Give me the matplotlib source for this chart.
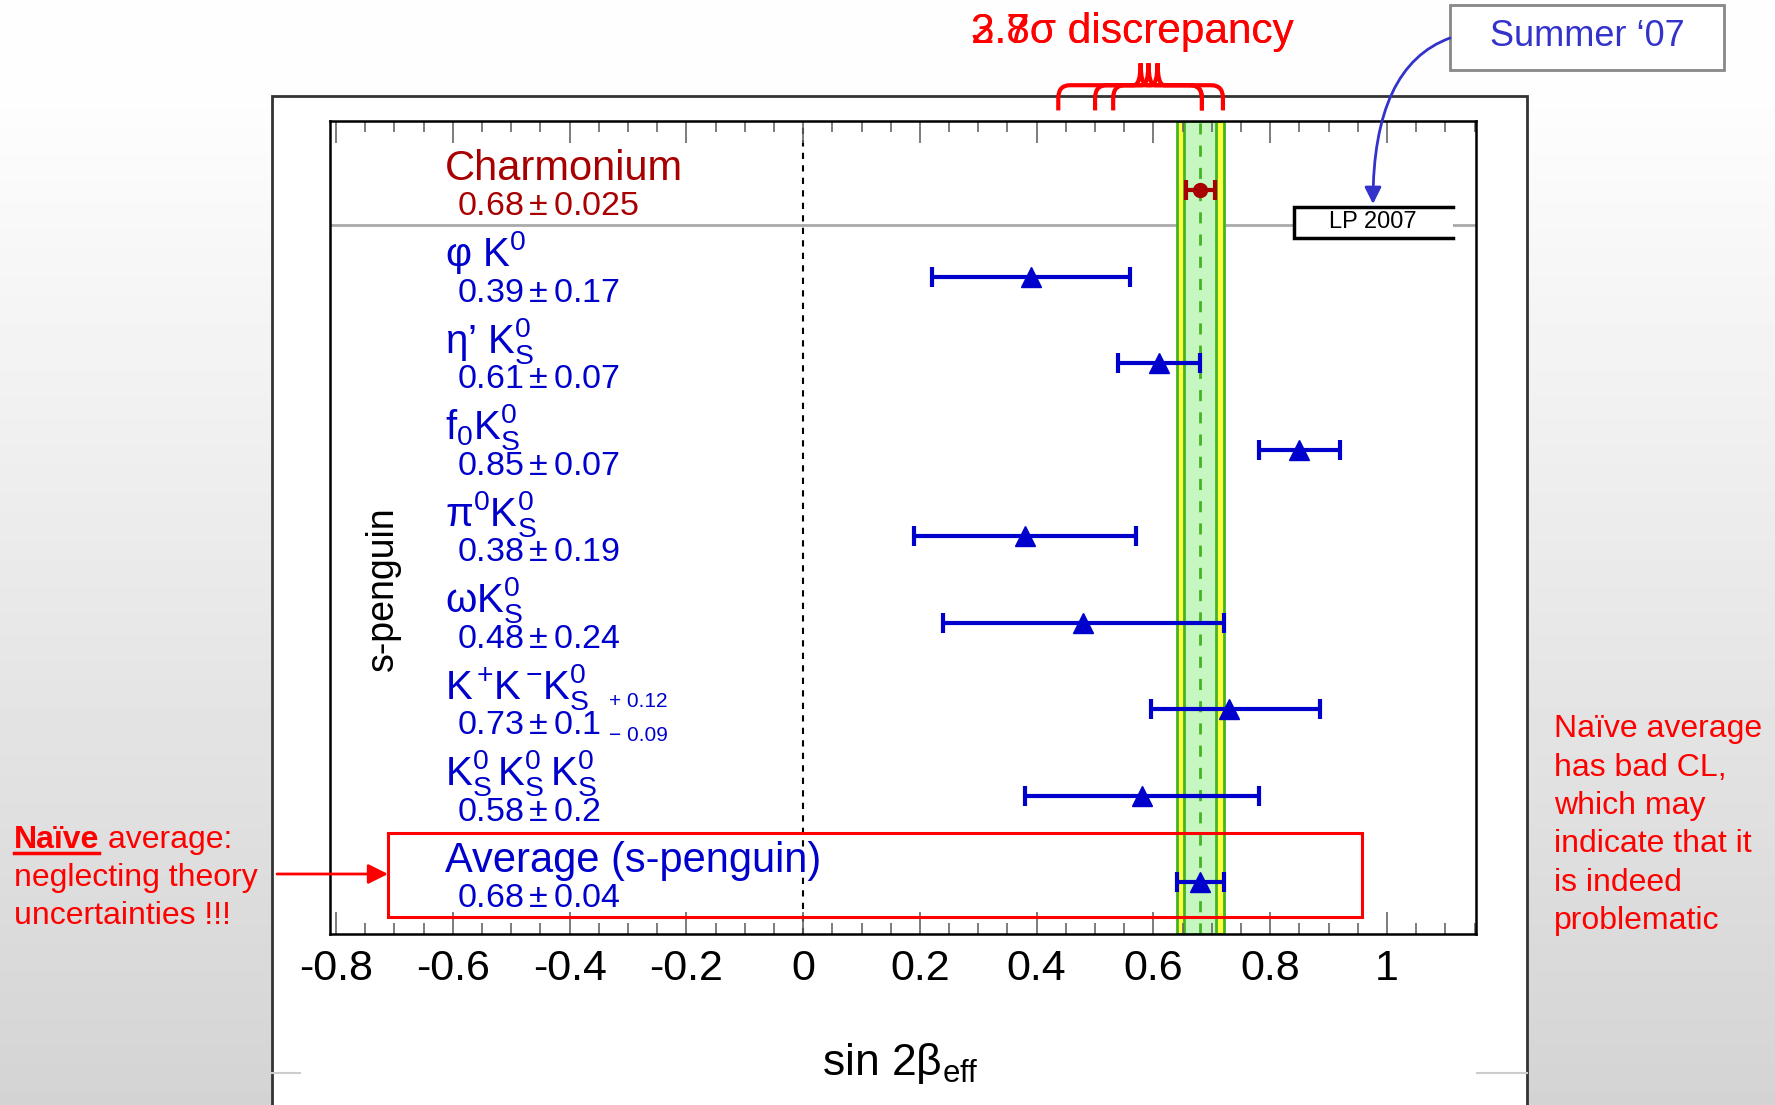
import numpy as np
import matplotlib.pyplot as plt
import matplotlib.transforms as mtransforms
from matplotlib.patches import Rectangle, FancyArrowPatch, PathPatch
from matplotlib.path import Path
from matplotlib.lines import Line2D

plt.rcParams['font.family'] = ['Liberation Sans', 'DejaVu Sans']
plt.rcParams['mathtext.fontset'] = 'custom'
plt.rcParams['mathtext.rm'] = 'Liberation Sans'
plt.rcParams['mathtext.it'] = 'Liberation Sans'
plt.rcParams['mathtext.bf'] = 'Liberation Sans:bold'
plt.rcParams['axes.unicode_minus'] = False

# =============================================================================
#  Data (HFAG sin2beta_eff, LP 2007)
# =============================================================================

modes = ['Charmonium', 'φ K$^0$', 'η’ K$_S^0$', 'f$_0$K$_S^0$', 'π$^0$K$_S^0$',
         'ωK$_S^0$', r'K$^+\!$K$^-\!$K$_S^0$',
         r'K$_S^0\,$K$_S^0\,$K$_S^0$', 'Average (s-penguin)']
sin2b     = [0.68, 0.39, 0.61, 0.85, 0.38, 0.48, 0.73, 0.58, 0.68]
err_minus = [0.025, 0.17, 0.07, 0.07, 0.19, 0.24, 0.135, 0.20, 0.04]
err_plus  = [0.025, 0.17, 0.07, 0.07, 0.19, 0.24, 0.156, 0.20, 0.04]
value_labels = [r'$0.68\pm0.025$', r'$0.39\pm0.17$', r'$0.61\pm0.07$',
                r'$0.85\pm0.07$', r'$0.38\pm0.19$', r'$0.48\pm0.24$',
                r'$0.73\pm0.1$', r'$0.58\pm0.2$', r'$0.68\pm0.04$']
kkk_syst = ['+ 0.12', '− 0.09']

band_center = 0.68
band_outer  = 0.04
band_inner  = 0.027

brace_spans = [(0.437, 0.719), (0.50, 0.683), (0.531, 0.683)]
discrepancy = ['3.7σ discrepancy', '2.8σ discrepancy']

xticks      = [-0.8, -0.6, -0.4, -0.2, 0, 0.2, 0.4, 0.6, 0.8, 1.0]
xticklabels = ['-0.8', '-0.6', '-0.4', '-0.2', '0', '0.2', '0.4', '0.6', '0.8', '1']

left_note  = ['average:', 'neglecting theory', 'uncertainties !!!']
right_note = ['Naïve average', 'has bad CL,', 'which may',
              'indicate that it', 'is indeed', 'problematic']

BLUE = '#0000cc'
DRED = '#a80000'
GREEN = '#44b422'

# =============================================================================
#  Figure
# =============================================================================

W, H = 1775, 1105
fig = plt.figure(figsize=(W / 100, H / 100), dpi=100)


def fx(x):
    return x / W


def fy(y):
    return 1 - y / H


# slide background: vertical grey gradient
bg = fig.add_axes([0, 0, 1, 1], zorder=-10)
g = np.clip((np.linspace(0, 1, 256) - 0.08) / 0.92, 0, 1)
shade = 0.995 - 0.165 * g
bg.imshow(np.tile(shade[:, None], (1, 2)), aspect='auto', cmap='gray',
          vmin=0, vmax=1, extent=[0, 1, 0, 1])
bg.axis('off')

# white frame of the pasted plot
fig.add_artist(Rectangle((fx(272), -0.01), fx(1527) - fx(272), fy(96) + 0.01,
                         transform=fig.transFigure, facecolor='white',
                         edgecolor='#333333', lw=2, zorder=-5))
for xa, xb in [(272, 300), (1477, 1527)]:
    fig.add_artist(Line2D([fx(xa), fx(xb)], [fy(1073)] * 2, transform=fig.transFigure,
                          color='#cccccc', lw=1.5, zorder=-4))

ax = fig.add_axes([fx(330), fy(934), (1476 - 330) / W, (934 - 121) / H])
ax.set_xlim(-0.8103, 1.1524)
ax.set_ylim(8.6, -0.8)

# averaged bands
ax.axvspan(band_center - band_outer, band_center + band_outer,
           facecolor='#ffff40', edgecolor=GREEN, lw=2, zorder=1)
ax.axvspan(band_center - band_inner, band_center + band_inner,
           facecolor='#c6f7c0', edgecolor=GREEN, lw=2, zorder=1.1)
ax.axvline(band_center, color=GREEN, ls=(0, (4, 4)), lw=2, zorder=1.2)
ax.axvline(0, color='black', ls=(0, (3, 3)), lw=1.5, zorder=1)
ax.axhline(0.4, color='#aaaaaa', lw=2, zorder=0.9)

rows = np.arange(len(modes))
colors = [DRED] + [BLUE] * (len(modes) - 1)
for i in rows:
    mk = 'o' if i == 0 else '^'
    ax.errorbar(sin2b[i], i, xerr=[[err_minus[i]], [err_plus[i]]], fmt=mk,
                color=colors[i], ms=10 if i == 0 else 14, elinewidth=3,
                capsize=7, capthick=3, zorder=6)

for i in rows:
    fs = 30 if i in (0, len(modes) - 1) else 29
    ax.text(-0.613, i - 0.12, modes[i], fontsize=fs, color=colors[i], va='baseline')
    ax.text(-0.592, i + 0.29, value_labels[i], fontsize=24.5, color=colors[i], va='baseline')
ax.text(-0.332, 6 - 0.09, kkk_syst[0], fontsize=15, color=BLUE, va='center')
ax.text(-0.332, 6 + 0.31, kkk_syst[1], fontsize=15, color=BLUE, va='center')

# LP 2007 tag
ax.add_patch(Rectangle((0.841, 0.19), 0.272, 0.36, facecolor='white',
                       edgecolor='none', zorder=3))
ax.plot([1.113, 0.841, 0.841, 1.113], [0.19, 0.19, 0.55, 0.55], color='black',
        lw=2.5, solid_joinstyle='miter', zorder=4)
ax.text(0.976, 0.37, 'LP 2007', fontsize=17, ha='center', va='center', zorder=5)

# box around the average
ax.add_patch(Rectangle((-0.711, 7.43), 1.668, 0.97, facecolor='none',
                       edgecolor='red', lw=2.2, zorder=5, clip_on=False))

ax.set_xticks(xticks)
ax.set_xticklabels(xticklabels)
ax.xaxis.set_minor_locator(plt.MultipleLocator(0.05))
ax.tick_params(axis='x', which='both', direction='in', top=True, bottom=True,
               color='#666666', labelsize=31, pad=11, width=1.2)
ax.tick_params(axis='x', which='major', length=16)
ax.tick_params(axis='x', which='minor', length=8)
ax.set_yticks([])
for s in ax.spines.values():
    s.set_linewidth(1.8)

# braces for the discrepancy
trans = mtransforms.blended_transform_factory(ax.transData, ax.transAxes)
yb, yf, yp = 1.013, 1.044, 1.071
rx, ry, rt = 0.02, 0.016, 0.012
for x0, x1 in brace_spans:
    xm = 0.5 * (x0 + x1)
    verts = [(x0, yb), (x0, yf - ry), (x0, yf), (x0 + rx, yf), (xm - rt, yf),
             (xm, yf), (xm, yp), (xm, yf), (xm + rt, yf), (x1 - rx, yf),
             (x1, yf), (x1, yf - ry), (x1, yb)]
    codes = [Path.MOVETO, Path.LINETO, Path.CURVE3, Path.CURVE3, Path.LINETO,
             Path.CURVE3, Path.CURVE3, Path.CURVE3, Path.CURVE3, Path.LINETO,
             Path.CURVE3, Path.CURVE3, Path.LINETO]
    ax.add_patch(PathPatch(Path(verts, codes), transform=trans, facecolor='none',
                           edgecolor='red', lw=3, clip_on=False, zorder=7))

for t in discrepancy:
    fig.text(fx(971), fy(32), t, fontsize=30.5, color='red', va='center')

fig.text(fx(383), fy(589), 's-penguin', rotation=90, fontsize=27,
         ha='center', va='center')
fig.text(fx(900), fy(1064), r'sin 2β$_{\rm eff}$', fontsize=32,
         ha='center', va='center')

# Summer '07 label and arrow
fig.add_artist(Rectangle((fx(1450), fy(70)), fx(1724) - fx(1450), fy(5) - fy(70),
                         transform=fig.transFigure, facecolor='white',
                         edgecolor='#888888', lw=2))
fig.text(fx(1587), fy(37), 'Summer ‘07', fontsize=26, color='#3333cc',
         ha='center', va='center')
fig.add_artist(FancyArrowPatch((fx(1450), fy(38)), (fx(1373), fy(204)),
                               transform=fig.transFigure,
                               connectionstyle='angle3,angleA=200,angleB=90',
                               arrowstyle='-|>', mutation_scale=25,
                               color='#3333cc', lw=2, shrinkA=0, shrinkB=0))

# red arrow to the average
fig.add_artist(FancyArrowPatch((fx(277), fy(874)), (fx(388), fy(874)),
                               transform=fig.transFigure, arrowstyle='-|>',
                               mutation_scale=30, color='red', lw=2,
                               shrinkA=0, shrinkB=0))

# side notes
NOTE_FS = 23
t = fig.text(fx(14), fy(848), 'Naïve', fontsize=NOTE_FS, weight='bold', color='red',
             va='baseline')
fig.canvas.draw()
bb = t.get_window_extent()
fig.add_artist(Line2D([bb.x0 / W, bb.x1 / W], [fy(853)] * 2,
                      transform=fig.transFigure, color='red', lw=2.5))
fig.text(bb.x1 / W, fy(848), ' ' + left_note[0], fontsize=NOTE_FS, color='red',
         va='baseline')
for k, line in enumerate(left_note[1:]):
    fig.text(fx(14), fy(886 + 37.5 * k), line, fontsize=NOTE_FS, color='red',
             va='baseline')

for k, line in enumerate(right_note):
    fig.text(fx(1554), fy(737 + 38.5 * k), line, fontsize=NOTE_FS, color='red',
             va='baseline')

fig.savefig('out.png', dpi=100)
